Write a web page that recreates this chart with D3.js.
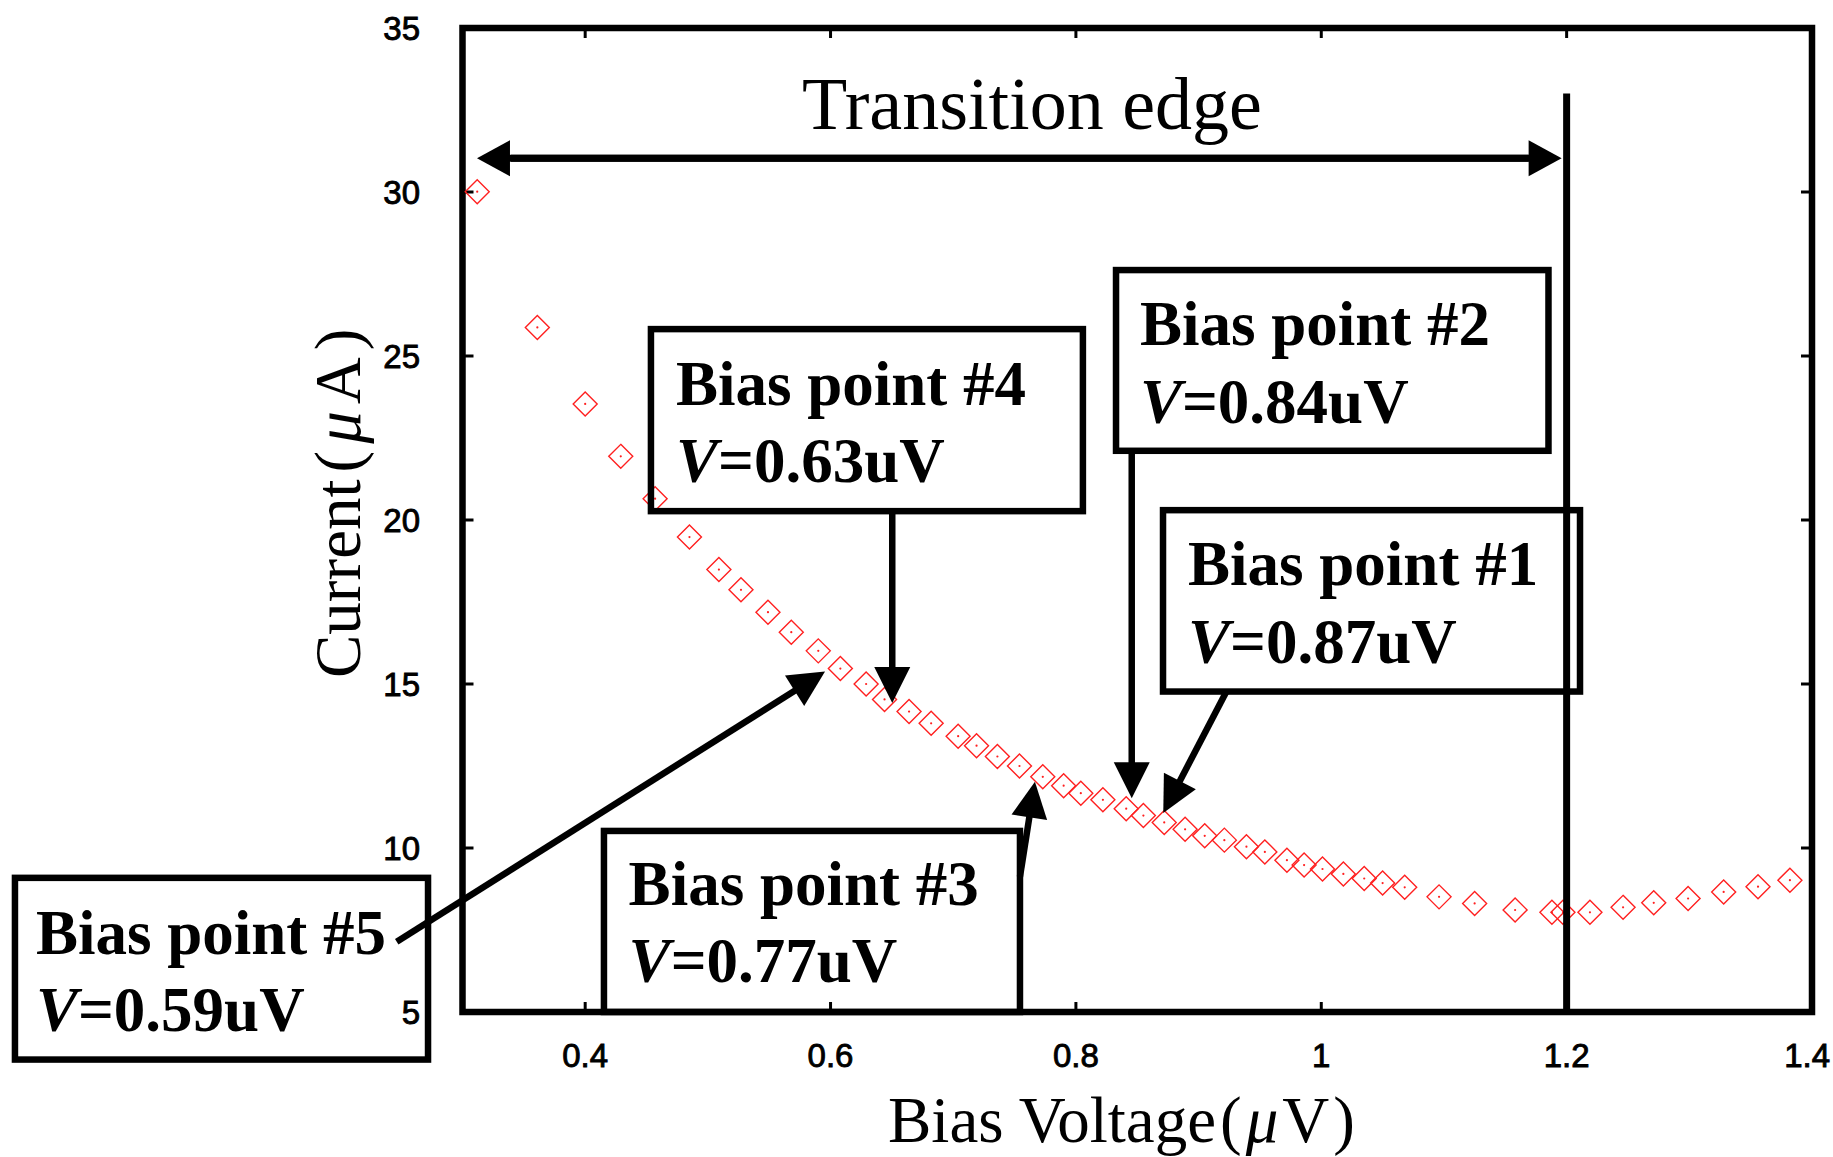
<!DOCTYPE html>
<html><head><meta charset="utf-8">
<script src="https://cdn.jsdelivr.net/npm/d3@7/dist/d3.min.js"></script>
<style>body{margin:0;background:#fff}</style>
</head><body>
<svg id="chart" width="1833" height="1157"></svg>
<script>
// ---------- data ----------
const voltage = [0.312,0.361,0.400,0.429,0.457,0.485,0.509,0.527,0.549,0.568,0.590,0.608,0.629,0.644,0.664,0.682,0.704,0.719,0.736,0.754,0.773,0.790,0.804,0.822,0.841,0.855,0.872,0.889,0.905,0.921,0.939,0.954,0.972,0.986,1.001,1.018,1.035,1.050,1.068,1.096,1.125,1.158,1.188,1.197,1.219,1.246,1.271,1.299,1.328,1.356,1.382];
const current = [30.01,25.87,23.54,21.94,20.65,19.48,18.49,17.87,17.19,16.58,16.01,15.47,15.00,14.53,14.16,13.80,13.41,13.12,12.79,12.50,12.17,11.90,11.67,11.47,11.20,10.99,10.78,10.57,10.37,10.24,10.04,9.88,9.63,9.48,9.36,9.21,9.07,8.93,8.80,8.51,8.31,8.11,8.04,8.04,8.04,8.19,8.33,8.46,8.66,8.82,9.02];
const xTicks = [0.4,0.6,0.8,1,1.2,1.4];
const yTicks = [5,10,15,20,25,30,35];
const xTitleParts = ["Bias Voltage","(","\u03BC","V",")"];
const yTitleParts = ["Current","(","\u03BC","A",")"];
const edgeLabel = "Transition edge";
const edgeVoltage = 1.2;
const biasNames = ["Bias point #1","Bias point #2","Bias point #3","Bias point #4","Bias point #5"];
const biasValues = ["0.87uV","0.84uV","0.77uV","0.63uV","0.59uV"];

// ---------- layout (annotation geometry in data units) ----------
const annLayout = [
  {box:[0.8710,1.2109,20.30,14.77], text:[0.8914,18.02,15.63], from:[0.9229,14.79], to:[0.8712,11.07]},
  {box:[0.8327,1.1852,27.62,22.11], text:[0.8522,25.34,22.97], from:[0.8455,22.11], to:[0.8455,11.52]},
  {box:[0.4153,0.7544,10.52,5.0],  text:[0.4354,8.26,5.92],   from:[0.7544,9.12],  to:[0.7666,12.02]},
  {box:[0.4536,0.8057,25.82,20.27], text:[0.4740,23.51,21.17], from:[0.6503,20.27], to:[0.6503,14.42]},
  {box:[-0.0648,0.2719,9.09,3.55], text:[-0.0477,6.77,4.43],  from:[0.2464,7.14],  to:[0.5955,15.38]}
];
const edgeArrow = {y:31.03, x0:0.3118, lineTop:33.0};

const svg = d3.select("#chart");
const x = d3.scaleLinear().domain([0.3,1.4]).range([462.5,1812]);
const y = d3.scaleLinear().domain([5,35]).range([1012,28]);

const serif = "'Liberation Serif','Times New Roman',serif";
const sans = "'Liberation Sans',Arial,sans-serif";

// tick labels
svg.append("g").selectAll("text").data(yTicks).join("text")
  .attr("x", 420).attr("y", d => y(d)).attr("dy","0.36em")
  .attr("text-anchor","end").attr("font-family",sans).attr("font-size",33)
  .attr("stroke","#000").attr("stroke-width",0.9)
  .text(d => d);
svg.append("g").selectAll("text").data(xTicks).join("text")
  .attr("x", (d,i) => i === xTicks.length-1 ? 1830 : x(d)).attr("y", 1067)
  .attr("text-anchor",(d,i) => i === xTicks.length-1 ? "end" : "middle")
  .attr("font-family",sans).attr("font-size",33)
  .attr("stroke","#000").attr("stroke-width",0.9)
  .text(d => String(d));

// axis titles
function title(sel, parts, gap){
  parts.forEach((p,i) => {
    sel.append("tspan").attr("dx", i===0 ? 0 : gap).attr("font-style", p==="\u03BC" ? "italic" : null).text(p);
  });
}
const xt = svg.append("text").attr("x",888).attr("y",1142)
  .attr("font-family",serif).attr("font-size",65);
title(xt, xTitleParts, 4);
const yt = svg.append("text").attr("transform","translate(360,678) rotate(-90)")
  .attr("font-family",serif).attr("font-size",65);
title(yt, yTitleParts, 7);

// ticks (inward on all four sides)
const tk = svg.append("g").attr("stroke","#000").attr("stroke-width",3);
yTicks.slice(1,-1).forEach(v => {
  tk.append("line").attr("x1",x(0.3)).attr("x2",x(0.3)+11).attr("y1",y(v)).attr("y2",y(v));
  tk.append("line").attr("x1",x(1.4)).attr("x2",x(1.4)-11).attr("y1",y(v)).attr("y2",y(v));
});
xTicks.slice(0,-1).forEach(v => {
  tk.append("line").attr("x1",x(v)).attr("x2",x(v)).attr("y1",y(35)).attr("y2",y(35)+10);
  tk.append("line").attr("x1",x(v)).attr("x2",x(v)).attr("y1",y(5)).attr("y2",y(5)-10);
});

// frame
svg.append("rect").attr("x",x(0.3)).attr("y",y(35)).attr("width",x(1.4)-x(0.3)).attr("height",y(5)-y(35))
  .attr("fill","none").attr("stroke","#000").attr("stroke-width",6.5);

// data points: diamonds with center dot
const pts = svg.append("g");
const pdata = voltage.map((v,i)=>({v, c: current[i]}));
pts.selectAll("path").data(pdata).join("path")
  .attr("d", d => { const cx=x(d.v), cy=y(d.c), r=12; return `M${cx},${cy-r}L${cx+r},${cy}L${cx},${cy+r}L${cx-r},${cy}Z`; })
  .attr("fill","none").attr("stroke","#ff2020").attr("stroke-width",1.4);
pts.selectAll("circle").data(pdata).join("circle")
  .attr("cx", d=>x(d.v)).attr("cy", d=>y(d.c)).attr("r",1.1).attr("fill","#ff2020");

// arrow helper
function arrow(g, x1,y1,x2,y2, L=36, W=18, sw=6.5){
  const dx=x2-x1, dy=y2-y1, len=Math.hypot(dx,dy), ux=dx/len, uy=dy/len;
  const bx=x2-ux*L, by=y2-uy*L;
  g.append("line").attr("x1",x1).attr("y1",y1).attr("x2",bx+ux*2).attr("y2",by+uy*2)
    .attr("stroke","#000").attr("stroke-width",sw);
  g.append("path").attr("d",`M${x2},${y2}L${bx-uy*W},${by+ux*W}L${bx+uy*W},${by-ux*W}Z`).attr("fill","#000");
}

// transition edge
const eg = svg.append("g");
eg.append("line").attr("x1",x(edgeVoltage)).attr("x2",x(edgeVoltage)).attr("y1",y(edgeArrow.lineTop)).attr("y2",y(5))
  .attr("stroke","#000").attr("stroke-width",7);
const ay = y(edgeArrow.y);
arrow(eg, x(edgeArrow.x0)+34, ay, x(edgeVoltage)-5, ay, 33, 18, 7);
arrow(eg, x(edgeVoltage)-38, ay, x(edgeArrow.x0), ay, 33, 18, 7);
eg.append("text").attr("x",1032).attr("y",128.5).attr("text-anchor","middle")
  .attr("font-family",serif).attr("font-size",74).text(edgeLabel);

// annotation boxes
annLayout.forEach((a,i) => {
  const g = svg.append("g");
  const [bx0,bx1,byt,byb] = a.box;
  g.append("rect").attr("x",x(bx0)).attr("y",y(byt)).attr("width",x(bx1)-x(bx0)).attr("height",y(byb)-y(byt))
    .attr("fill","none").attr("stroke","#000").attr("stroke-width",6.5);
  g.append("text").attr("x",x(a.text[0])).attr("y",y(a.text[1]))
    .attr("font-family",serif).attr("font-weight","bold").attr("font-size",63).text(biasNames[i]);
  const t2 = g.append("text").attr("x",x(a.text[0])).attr("y",y(a.text[2]))
    .attr("font-family",serif).attr("font-weight","bold").attr("font-size",63);
  t2.append("tspan").attr("font-style","italic").text("V");
  t2.append("tspan").text("=" + biasValues[i]);
  arrow(g, x(a.from[0]), y(a.from[1]), x(a.to[0]), y(a.to[1]), 36, 18, 6.5);
});
</script>
</body></html>
